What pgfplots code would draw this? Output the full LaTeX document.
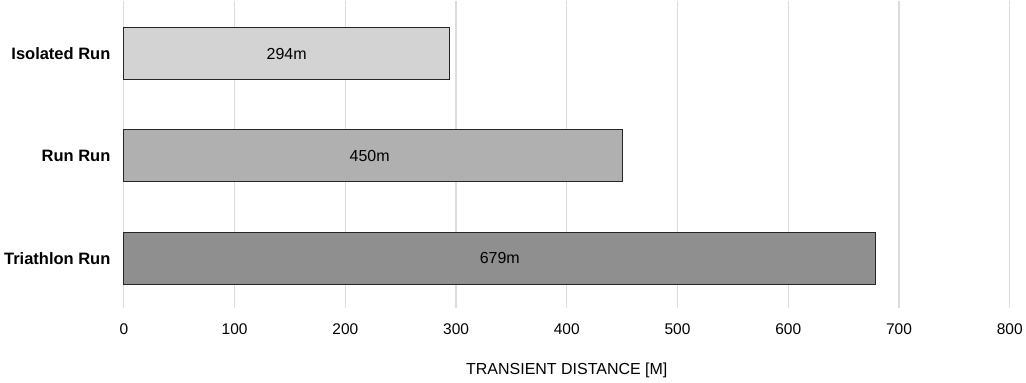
\documentclass[border=0pt]{standalone}
\usepackage{fontspec}
\setmainfont{Liberation Sans}
\usepackage{pgfplots}
\pgfplotsset{compat=1.18}
\definecolor{barA}{HTML}{D3D3D3}
\definecolor{barB}{HTML}{B0B0B0}
\definecolor{barC}{HTML}{8F8F8F}
\definecolor{gridc}{HTML}{DCDCDC}
\begin{document}
\begin{tikzpicture}
\begin{axis}[
  scale only axis,
  width=887pt, height=308pt,
  xmin=0, xmax=800,
  ymin=-0.517, ymax=2.49,
  y dir=reverse,
  xtick={0,100,...,800},
  ytick={0,1,2},
  yticklabels={Isolated Run,Run Run,Triathlon Run},
  yticklabel style={font=\fontsize{16.5}{19}\selectfont\bfseries, xshift=-10pt},
  xticklabel style={font=\fontsize{15.5}{18}\selectfont, yshift=-12pt},
  /pgf/number format/assume math mode=true,
  xlabel={TRANSIENT DISTANCE [M]},
  xlabel style={font=\fontsize{16}{19}\selectfont, yshift=-21pt},
  axis line style={draw=none},
  major tick length=0pt,
  xmajorgrids,
  major grid style={gridc, line width=1.3pt},
  clip=false,
]
\addplot[xbar, bar width=52pt, bar shift=0pt, fill=barA, draw=black!85, line width=1.1pt] coordinates {(294,0)};
\addplot[xbar, bar width=52pt, bar shift=0pt, fill=barB, draw=black!85, line width=1.1pt] coordinates {(450,1)};
\addplot[xbar, bar width=52pt, bar shift=0pt, fill=barC, draw=black!85, line width=1.1pt] coordinates {(679,2)};
\addplot[draw=none, mark=none, nodes near coords, point meta=explicit symbolic,
  every node near coord/.style={anchor=center, font=\fontsize{16}{19}\selectfont, text=black}]
  coordinates {(147,0)[294m] (222,1)[450m] (339.5,2)[679m]};
\end{axis}
\path[use as bounding box] (-124pt,-74pt) rectangle (902pt,308pt);
\end{tikzpicture}
\end{document}
